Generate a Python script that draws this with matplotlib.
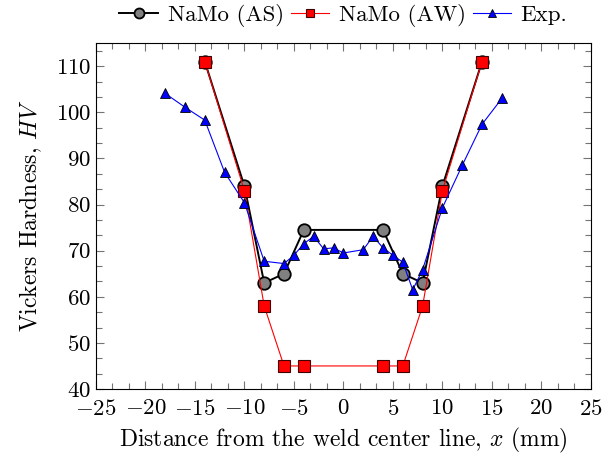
import matplotlib.pyplot as plt
from matplotlib.ticker import MultipleLocator

plt.rcParams['font.family'] = 'serif'
plt.rcParams['font.serif'] = ['cmr10']
plt.rcParams['mathtext.fontset'] = 'cm'
plt.rcParams['axes.formatter.use_mathtext'] = True
plt.rcParams['axes.unicode_minus'] = True

# NaMo (AS)
as_x = [-14, -10, -8, -6, -4, 4, 6, 8, 10, 14]
as_y = [111, 84, 63, 65, 74.5, 74.5, 65, 63, 84, 111]

# NaMo (AW)
aw_x = [-14, -10, -8, -6, -4, 4, 6, 8, 10, 14]
aw_y = [111, 83, 58, 45, 45, 45, 45, 58, 83, 111]

# Experiment
exp_x = [-18, -16, -14, -12, -10, -8, -6, -5, -4, -3, -2, -1, 0,
         2, 3, 4, 5, 6, 7, 8, 10, 12, 14, 16]
exp_y = [104.1, 101.1, 98.3, 87.0, 80.4, 67.7, 67.2, 69.0, 71.5, 73.1, 70.4, 70.6, 69.5,
         70.2, 73.1, 70.6, 69.0, 67.5, 61.5, 65.9, 79.3, 88.5, 97.4, 103.0]

fs = 16.5

fig = plt.figure(figsize=(6.03, 4.59), dpi=100)
ax = fig.add_axes([0.159, 0.1525, 0.821, 0.7535])

ax.plot(as_x, as_y, color='black', lw=1.4, marker='o', ms=9,
        mfc='#808080', mec='black', mew=1.3, label='NaMo (AS)', zorder=3)
ax.plot(aw_x, aw_y, color='red', lw=0.8, marker='s', ms=8,
        mfc='red', mec='#400000', mew=0.8, label='NaMo (AW)', zorder=4)
ax.plot(exp_x, exp_y, color='blue', lw=0.8, marker='^', ms=7.5,
        mfc='blue', mec='black', mew=0.6, label='Exp.', zorder=5)

ax.set_xlim(-25, 25)
ax.set_ylim(40, 115)
ax.xaxis.set_major_locator(MultipleLocator(5))
ax.xaxis.set_minor_locator(MultipleLocator(5 / 3))
ax.yaxis.set_major_locator(MultipleLocator(10))
ax.yaxis.set_minor_locator(MultipleLocator(10 / 3))
ax.tick_params(which='both', direction='in', top=True, right=True, color='0.45')
ax.tick_params(which='major', length=6, width=0.8, labelsize=fs)
ax.tick_params(axis='x', which='major', pad=7)
ax.tick_params(which='minor', length=4, width=0.8)

ax.set_xlabel('Distance from the weld center line, $x$ (mm)', fontsize=17, labelpad=5)
ax.set_ylabel('Vickers Hardness, $HV$', fontsize=17, labelpad=8)

ax.legend(loc='lower center', bbox_to_anchor=(0.5, 1.0), ncol=3, frameon=False,
          fontsize=fs, handlelength=1.7, handletextpad=0.4, columnspacing=0.3,
          borderaxespad=0.3, markerscale=0.8)

plt.savefig('out.png')
